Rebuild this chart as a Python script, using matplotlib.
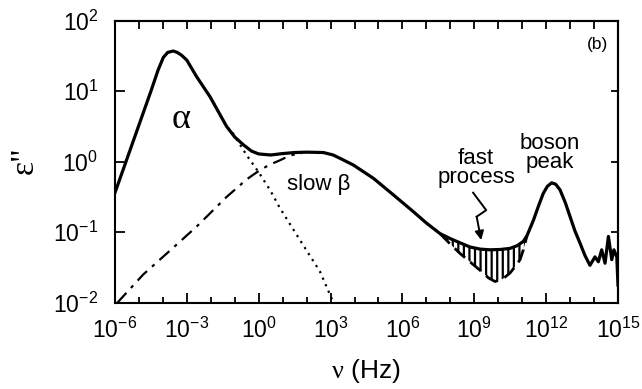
import numpy as np
import matplotlib
matplotlib.use("Agg")
import matplotlib.pyplot as plt

plt.rcParams['font.family'] = ['Liberation Sans', 'DejaVu Sans']
plt.rcParams['mathtext.fontset'] = 'custom'
plt.rcParams['mathtext.rm'] = 'Liberation Sans'
plt.rcParams['mathtext.it'] = 'Liberation Serif'
plt.rcParams['hatch.linewidth'] = 1.6

# ---- data (log10 frequency [Hz], log10 eps'') ----
solid_logf = [-6.0, -5.5, -5.0, -4.5, -4.2, -3.98, -3.8, -3.57, -3.4, -3.22, -3.0,
              -2.6, -2.03, -1.34, -1.0, -0.64, -0.3, 0.0, 0.5, 1.0, 1.5, 2.0, 2.7,
              3.11, 3.5, 3.95, 4.79, 5.62, 6.46, 7.0, 7.57, 7.99, 8.4, 8.82, 9.24,
              9.66, 10.1, 10.49, 10.8, 11.05, 11.2, 11.47, 11.68, 11.88, 12.05,
              12.23, 12.4, 12.58, 12.8, 13.0, 13.2, 13.42, 13.62, 13.83, 14.04,
              14.18, 14.32, 14.46, 14.6, 14.74, 14.83, 14.95, 15.0]
solid_logeps = [-0.44, 0.04, 0.52, 1.0, 1.3, 1.48, 1.55, 1.57, 1.55, 1.51, 1.44,
                1.21, 0.92, 0.50, 0.35, 0.24, 0.15, 0.11, 0.095, 0.115, 0.13, 0.135, 0.13,
                0.095, 0.03, -0.047, -0.236, -0.47, -0.71, -0.87, -1.02, -1.09, -1.15, -1.21, -1.24,
                -1.25, -1.245, -1.23, -1.19, -1.13, -1.05, -0.83, -0.63, -0.45, -0.35,
                -0.30, -0.32, -0.40, -0.58, -0.78, -0.98, -1.16, -1.33, -1.47, -1.35,
                -1.42, -1.25, -1.44, -1.06, -1.39, -1.25, -1.35, -1.75]

dashed_logf = [7.57, 8.0, 8.4, 8.82, 9.24, 9.6, 9.87, 10.2, 10.49, 10.75, 10.91, 11.05, 11.2]
dashed_logeps = [-1.02, -1.17, -1.30, -1.42, -1.54, -1.65, -1.70, -1.66, -1.58, -1.47, -1.39, -1.25, -1.05]

alpha_logf = [-2.03, -1.34, -1.07, -0.5, 0.0, 0.47, 0.89, 1.72, 2.56, 3.12]
alpha_logeps = [0.92, 0.50, 0.40, 0.09, -0.15, -0.40, -0.66, -1.11, -1.56, -2.0]

beta_logf = [-5.9, -4.82, -3.7, -2.59, -1.34, -0.5, 0.05, 0.47, 0.89, 1.31, 1.8]
beta_logeps = [-2.0, -1.6, -1.26, -0.92, -0.50, -0.25, -0.12, -0.04, 0.02, 0.09, 0.12]

xtick_exps = [-6, -3, 0, 3, 6, 9, 12, 15]
ytick_exps = [-2, -1, 0, 1, 2]
xtick_labels = [r'$\mathregular{10^{%d}}$' % e for e in xtick_exps]
ytick_labels = [r'$\mathregular{10^{%d}}$' % e for e in ytick_exps]

def p(a):
    return 10.0 ** np.asarray(a, dtype=float)

fig = plt.figure(figsize=(6.42, 3.89), dpi=100)
ax = fig.add_axes([0.1791, 0.2219, 0.7835, 0.7249])
ax.set_xscale('log')
ax.set_yscale('log')
ax.set_xlim(1e-6, 1e15)
ax.set_ylim(1e-2, 1e2)

# hatched fast-process region
sf = np.asarray(solid_logf)
se = np.asarray(solid_logeps)
m = (sf >= dashed_logf[0]) & (sf <= dashed_logf[-1])
poly_f = np.concatenate([sf[m], np.asarray(dashed_logf)[::-1]])
poly_e = np.concatenate([se[m], np.asarray(dashed_logeps)[::-1]])
ax.fill(p(poly_f), p(poly_e), facecolor='none', edgecolor='black', hatch='|||', linewidth=0)

ax.plot(p(alpha_logf), p(alpha_logeps), color='black', lw=1.6, linestyle=(0, (1, 2.2)))
ax.plot(p(beta_logf), p(beta_logeps), color='black', lw=1.6, linestyle=(0, (6, 3, 1.5, 3)))
ax.plot(p(dashed_logf), p(dashed_logeps), color='black', lw=2.0, linestyle=(0, (5, 2.5)))
ax.plot(p(solid_logf), p(solid_logeps), color='black', lw=2.3, solid_joinstyle='round')

# ticks
ax.set_xticks(p(xtick_exps))
ax.set_xticklabels(xtick_labels)
ax.set_xticks(p(range(-6, 16)), minor=True)
ax.set_yticks(p(ytick_exps))
ax.set_yticklabels(ytick_labels)
ax.yaxis.set_minor_locator(matplotlib.ticker.NullLocator())
ax.xaxis.set_minor_formatter(matplotlib.ticker.NullFormatter())
ax.tick_params(axis='x', which='major', direction='in', length=7, width=1.3,
               labelsize=16.5, pad=11)
ax.tick_params(axis='x', which='minor', direction='in', length=4.3, width=1.3)
ax.tick_params(axis='y', which='major', direction='in', length=7, width=1.3,
               labelsize=16.5, pad=12)
for s in ax.spines.values():
    s.set_linewidth(1.5)

top = ax.secondary_xaxis('top')
top.set_xticks(p(range(-6, 16)))
top.set_xticklabels([])
top.xaxis.set_minor_locator(matplotlib.ticker.NullLocator())
top.tick_params(direction='in', length=5.5, width=1.3)
top.spines['top'].set_linewidth(1.5)

right = ax.secondary_yaxis('right')
right.set_yticks(p(ytick_exps))
right.set_yticklabels([])
right.yaxis.set_minor_locator(matplotlib.ticker.NullLocator())
right.tick_params(direction='in', length=5, width=1.3)
right.spines['right'].set_linewidth(1.5)

# annotations
ax.text(0.131, 0.648, 'α', transform=ax.transAxes, fontsize=26,
        family=['Liberation Serif', 'DejaVu Serif'], ha='center', va='center')
ax.text(0.405, 0.418, 'slow β', transform=ax.transAxes, fontsize=16,
        ha='center', va='center')
ax.text(0.718, 0.478, 'fast\nprocess', transform=ax.transAxes, fontsize=16,
        ha='center', va='center', linespacing=0.92)
ax.text(0.865, 0.531, 'boson\npeak', transform=ax.transAxes, fontsize=16,
        ha='center', va='center', linespacing=0.92)
ax.text(0.96, 0.914, '(b)', transform=ax.transAxes, fontsize=12.5,
        ha='center', va='center')

zx = [0.712, 0.738, 0.719]
zy = [0.390, 0.328, 0.305]
ax.plot(zx, zy, transform=ax.transAxes, color='black', lw=1.4)
ax.annotate('', xy=(0.728, 0.222), xytext=(0.719, 0.305),
            xycoords='axes fraction', textcoords='axes fraction',
            arrowprops=dict(arrowstyle='-|>', color='black', lw=1.4,
                            mutation_scale=13, shrinkA=0, shrinkB=0))

fig.text(366 / 642, 1 - 371 / 389, r'$\nu$ (Hz)', fontsize=19, ha='center', va='center')
fig.text(25 / 642, 1 - 160 / 389, 'ε"', fontsize=24, rotation=90,
         family=['Liberation Serif', 'DejaVu Serif'], ha='center', va='center')

fig.savefig('out.png', dpi=100)
